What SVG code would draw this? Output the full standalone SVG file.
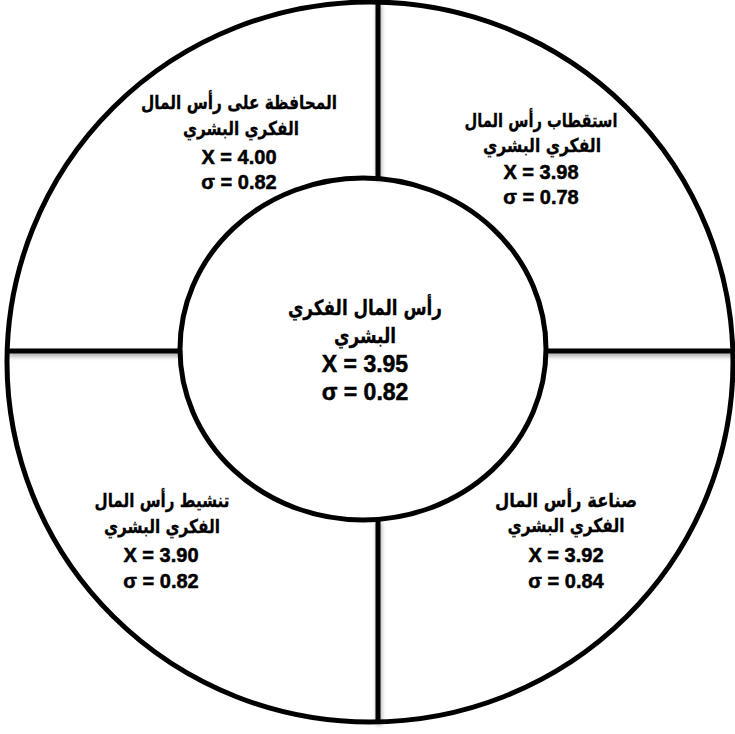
<svg xmlns="http://www.w3.org/2000/svg" width="735" height="734" viewBox="0 0 735 734">
<style>
.ring{fill:none;stroke:#000;stroke-width:5}
.line{stroke:#000;stroke-width:5;fill:none}
.ar{font-family:"DejaVu Sans","Liberation Sans",sans-serif;font-weight:bold;font-size:19px;text-anchor:middle;fill:#000;stroke:#000;stroke-width:0.3}
.num{font-family:"Liberation Sans","DejaVu Sans",sans-serif;font-weight:bold;font-size:20px;text-anchor:middle;fill:#000;stroke:#000;stroke-width:0.5}
.arc{font-size:21px}
.numc{font-size:23px}
</style>
<defs>
<filter id="sh" x="-10%" y="-10%" width="120%" height="140%">
<feDropShadow dx="1" dy="3" stdDeviation="2" flood-color="#000" flood-opacity="0.35"/>
</filter>
</defs>
<rect width="735" height="734" fill="#fff"/>
<g id="outer-ring">
<ellipse class="ring" cx="370" cy="362" rx="363" ry="360"/>
</g>
<g id="connectors" filter="url(#sh)">
<line class="line" x1="378" y1="2" x2="378" y2="178"/>
<line class="line" x1="378" y1="520" x2="378" y2="722"/>
<line class="line" x1="7" y1="351" x2="180" y2="351"/>
<line class="line" x1="546" y1="351" x2="735" y2="351"/>
</g>
<g id="center">
<ellipse class="ring" cx="363" cy="349" rx="183" ry="171" fill="#fff"/>
<text class="ar arc" x="365" y="315" textLength="154" lengthAdjust="spacingAndGlyphs">رأس المال الفكري</text>
<text class="ar arc" x="365" y="343" textLength="62" lengthAdjust="spacingAndGlyphs">البشري</text>
<text class="num numc" x="365" y="372">X = 3.95</text>
<text class="num numc" x="365" y="400">σ = 0.82</text>
</g>
<g id="top-left">
<text class="ar" x="239" y="109" textLength="196" lengthAdjust="spacingAndGlyphs">المحافظة على رأس المال</text>
<text class="ar" x="241" y="135" textLength="116" lengthAdjust="spacingAndGlyphs">الفكري البشري</text>
<text class="num" x="239" y="164">X = 4.00</text>
<text class="num" x="239" y="189">σ = 0.82</text>
</g>
<g id="top-right">
<text class="ar" x="541" y="127" textLength="153" lengthAdjust="spacingAndGlyphs">استقطاب رأس المال</text>
<text class="ar" x="542" y="152" textLength="118" lengthAdjust="spacingAndGlyphs">الفكري البشري</text>
<text class="num" x="541" y="179">X = 3.98</text>
<text class="num" x="541" y="204">σ = 0.78</text>
</g>
<g id="bottom-left">
<text class="ar" x="162" y="507" textLength="135" lengthAdjust="spacingAndGlyphs">تنشيط رأس المال</text>
<text class="ar" x="162" y="533" textLength="116" lengthAdjust="spacingAndGlyphs">الفكري البشري</text>
<text class="num" x="161" y="562">X = 3.90</text>
<text class="num" x="161" y="588">σ = 0.82</text>
</g>
<g id="bottom-right">
<text class="ar" x="566" y="507" textLength="142" lengthAdjust="spacingAndGlyphs">صناعة رأس المال</text>
<text class="ar" x="566" y="532" textLength="117" lengthAdjust="spacingAndGlyphs">الفكري البشري</text>
<text class="num" x="566" y="562">X = 3.92</text>
<text class="num" x="566" y="588">σ = 0.84</text>
</g>
</svg>
